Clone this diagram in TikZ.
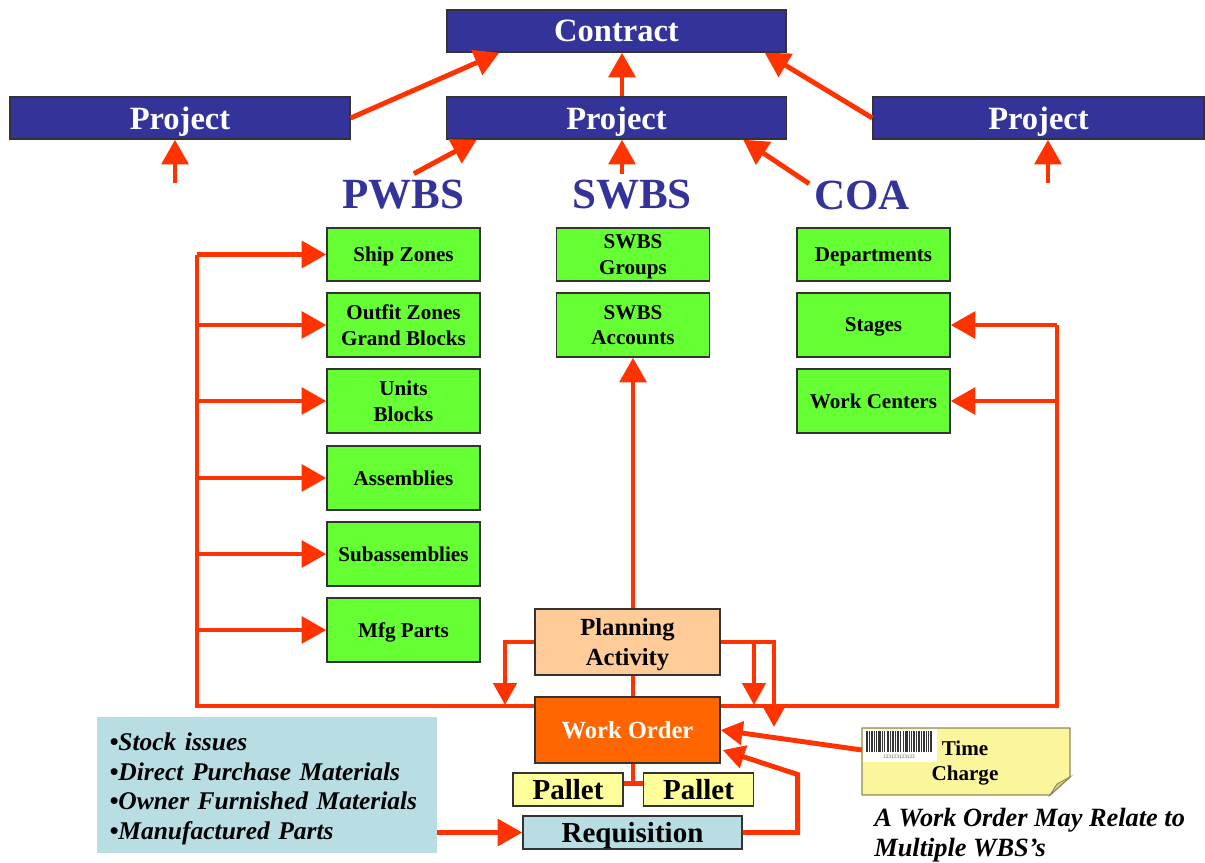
\documentclass[tikz,border=0pt]{standalone}
\usepackage{fontspec}
\setmainfont{Liberation Serif}
\usepackage{xcolor}
\definecolor{navy}{HTML}{333399}
\definecolor{arrowred}{HTML}{FF3300}
\definecolor{boxgreen}{HTML}{66FF33}
\definecolor{peach}{HTML}{FFCC99}
\definecolor{woorange}{HTML}{FF6600}
\definecolor{palletyellow}{HTML}{FFFF99}
\definecolor{reqblue}{HTML}{B8DEE3}
\definecolor{noteyellow}{HTML}{FBF59B}
\definecolor{notefold}{HTML}{D8D27A}
\definecolor{noteedge}{HTML}{8A8A60}
\definecolor{boxedge}{HTML}{333333}
\usepackage{tikz}
\usetikzlibrary{arrows.meta, calc}

\begin{document}
\begin{tikzpicture}[
  x=0.02cm, y=-0.02cm,
  font=\bfseries,
  navbox/.style={
    draw=boxedge, line width=0.8pt, fill=navy, text=white, inner sep=2pt,
    minimum width=6.8cm, minimum height=0.84cm, text depth=0pt,
    font=\fontsize{18.5}{20}\selectfont\bfseries
  },
  wbs/.style={
    draw=boxedge, line width=0.8pt, fill=boxgreen, align=center,
    minimum width=3.06cm, minimum height=1.28cm, text depth=-1pt,
    font=\fontsize{12}{14.5}\selectfont\bfseries
  },
  actbox/.style={
    draw=boxedge, line width=0.8pt, align=center, inner sep=2pt,
    minimum width=3.7cm, minimum height=1.32cm,
    font=\fontsize{14}{17}\selectfont\bfseries
  },
  slipbox/.style={
    draw=boxedge, line width=0.8pt, inner sep=1pt, minimum height=0.66cm,
    text depth=0pt, font=\fontsize{16.5}{18}\selectfont\bfseries
  },
  headtxt/.style={text=navy, font=\fontsize{24.5}{26}\selectfont\bfseries},
  redline/.style={draw=arrowred, line width=2.8pt},
  arr/.style={redline, -{Triangle[length=14pt, width=15pt]}},
  arrs/.style={redline, -{Triangle[length=12.5pt, width=13pt]}}
]
  \useasboundingbox (0,0) rectangle (1205,863);

  \node[navbox, minimum width=6.78cm] (ct) at (616.5,31) {Contract};
  \node[navbox] (pj1) at (180,118) {Project};
  \node[navbox] (pj2) at (616.5,118) {Project};
  \node[navbox, minimum width=6.62cm] (pj3) at (1038.5,118) {Project};

  \node[headtxt] (pw) at (403,195) {PWBS};
  \node[headtxt] (sw) at (632,195) {SWBS};
  \node[headtxt] (co) at (862,195) {COA};

  \node[wbs, minimum height=1.06cm] (sz) at (403.5,254.5) {Ship Zones};
  \node[wbs] (oz) at (403.5,325) {Outfit Zones\\Grand Blocks};
  \node[wbs] (ub) at (403.5,401) {Units\\Blocks};
  \node[wbs] (asm) at (403.5,478) {Assemblies};
  \node[wbs] (sub) at (403.5,554) {Subassemblies};
  \node[wbs] (mfg) at (403.5,630) {Mfg Parts};

  \node[wbs, minimum height=1.06cm] (swg) at (633,254.5) {SWBS\\Groups};
  \node[wbs] (swa) at (633,325) {SWBS\\Accounts};

  \node[wbs, minimum height=1.06cm] (dep) at (873.5,254.5) {Departments};
  \node[wbs] (stg) at (873.5,325) {Stages};
  \node[wbs] (wc) at (873.5,401) {Work Centers};

  \node[actbox, fill=peach, text depth=-2pt] (pa) at (627.5,642) {Planning\\Activity};
  \node[actbox, fill=woorange, text=white] (wo) at (627.5,730) {Work Order};

  \node[slipbox, fill=palletyellow, minimum width=2.2cm] (pl) at (568,789.5) {Pallet};
  \node[slipbox, fill=palletyellow, minimum width=2.2cm] (pr) at (698.5,789.5) {Pallet};
  \node[slipbox, fill=reqblue, minimum width=4.38cm] (rq) at (632.5,832.5) {Requisition};

  \node[fill=reqblue, minimum width=6.8cm, minimum height=2.72cm,
    text width=6.3cm, align=left, text height=14.5pt,
    font=\fontsize{14.5}{17}\selectfont\bfseries\itshape] (sk) at (267,785)
    {\textbullet Stock issues\\
     \textbullet Direct Purchase Materials\\
     \textbullet Owner Furnished Materials\\
     \textbullet Manufactured Parts};

  \path[fill=noteyellow, draw=noteedge, line width=0.8pt]
    (862,728) -- (1070,728) -- (1070,777) -- (1050,795) -- (862,795) -- cycle;
  \path[fill=notefold, draw=noteedge, line width=0.5pt]
    (1050,795) -- (1070,777) -- (1057,784) -- cycle;
  \fill[white] (863,729) rectangle (937,762);
  \foreach \bx/\bw in {866/1.5, 869/1, 871/2, 874/1, 876/1, 878/2.5, 882/1, 884/1,
    887/2, 890/1, 892/1.5, 895/1, 897/2, 900/1, 903/1, 905/2.5, 909/1, 911/1,
    913/2, 916/1, 918/1.5, 921/1, 923/2, 926/1, 928/1, 930/2}
    \fill[black!80] (\bx,731) rectangle ++(\bw,21);
  \node[font=\fontsize{3}{3}\selectfont, text=black!70, inner sep=0pt] (bcn) at (899,757)
    {123123123123};
  \node[align=center, font=\fontsize{12}{14}\selectfont\bfseries] (tc) at (965,763)
    {Time\\Charge};
  \coordinate (tcin) at (862,750);

  \node[anchor=north west, align=left, inner sep=0pt,
    font=\fontsize{15}{17}\selectfont\bfseries\itshape] (wonote) at (874,808)
    {A Work Order May Relate to\\Multiple WBS’s};

  \draw[arr] (pj1.east) -- ($(ct.south west)+(53,0)$);
  \draw[arr] ($(pj2.north)+(5.5,0)$) -- ($(ct.south)+(5.5,0)$);
  \draw[arr] (pj3.west) -- ($(ct.south east)+(-22,0)$);
  \coordinate (lin) at (175,183);
  \coordinate (rin) at (1048,183);
  \draw[arr] (lin) -- (lin |- pj1.south);
  \draw[arr] (rin) -- (rin |- pj3.south);
  \draw[arr] ($(pj2.south west)+(-32,34)$) -- ($(pj2.south west)+(31,0)$);
  \draw[arr] ($(pj2.south)+(5.5,34)$) -- ($(pj2.south)+(5.5,0)$);
  \draw[arr] ($(pj2.south east)+(22,44)$) -- ($(pj2.south east)+(-44,0)$);

  \coordinate (bl) at (197,706);
  \coordinate (br) at (1057,706);
  \draw[redline] (wo.west |- bl) -- (bl) -- (bl |- sz.west);
  \foreach \n in {sz,oz,ub,asm,sub,mfg}
    \draw[arr] (bl |- \n.west) -- (\n.west);
  \draw[redline] (wo.east |- br) -- (br) -- (br |- stg.east);
  \foreach \n in {stg,wc}
    \draw[arr] (br |- \n.east) -- (\n.east);

  \draw[arr] (pa.north -| swa.south) -- (swa.south);
  \draw[redline] (pa.south -| swa.south) -- (wo.north -| swa.south);
  \coordinate (pal) at (505,705);
  \coordinate (par) at (754,705);
  \coordinate (pax) at (774,727);
  \draw[arrs] (pa.west) -| (pal);
  \draw[arrs] (pa.east) -| (par);
  \draw[arrs] (pa.east) -| (pax);

  \draw[redline] (wo.south -| swa.south) -- ++(0,20) coordinate (pj);
  \draw[redline] (pl.east |- pj) -- (pr.west |- pj);

  \draw[arrs] (tcin) -- (wo.east);
  \draw[arrs] (rq.east) -- ++(55,0) -- ++(0,-58) -- ($(wo.east)+(2,20)$);
  \draw[arr] (sk.east |- rq.west) -- (rq.west);
\end{tikzpicture}
\end{document}
